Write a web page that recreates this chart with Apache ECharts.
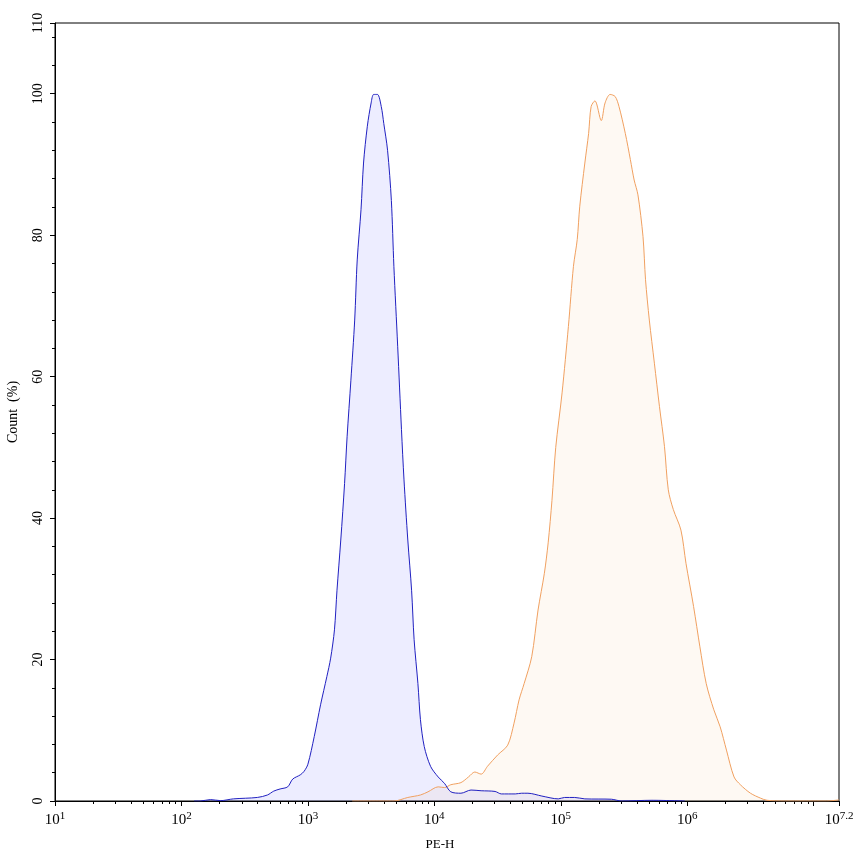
<!DOCTYPE html>
<html>
<head>
<meta charset="utf-8">
<title>PE-H histogram</title>
<script src="https://cdn.jsdelivr.net/npm/echarts@6/dist/echarts.min.js"></script>
<style>
  html, body { margin: 0; padding: 0; background: #fff; }
  #chart { width: 853px; height: 856px; }
</style>
</head>
<body>
<div id="chart"></div>
<script>
// x values are log10(PE-H), y values are Count (%)
var blueX = [2.10, 2.15, 2.23, 2.31, 2.41, 2.60, 2.68, 2.73, 2.78, 2.84, 2.88, 2.94, 2.97, 3.00,
    3.05, 3.10, 3.15, 3.18, 3.21, 3.23, 3.26, 3.29, 3.31, 3.34, 3.37, 3.39, 3.42, 3.44, 3.47,
    3.50, 3.52, 3.55, 3.58, 3.60, 3.63, 3.66, 3.68, 3.71, 3.74, 3.76, 3.79, 3.82, 3.84, 3.87,
    3.89, 3.92, 3.97, 4.03, 4.08, 4.13, 4.21, 4.29, 4.37, 4.48, 4.53, 4.64, 4.69, 4.74, 4.85,
    4.98, 5.03, 5.11, 5.19, 5.40, 5.48, 5.72, 5.98];
var blueY = [0, 0, 0.2, 0.05, 0.3, 0.5, 0.85, 1.4, 1.7, 2.0, 3.1, 3.7, 4.2, 5.2,
    9.1, 13.6, 17.6, 20.2, 24.2, 29.8, 36.9, 44.9, 51.5, 59.5, 68.0, 76.5, 83.6, 90.2, 95.4,
    98.7, 99.9, 99.9, 98.2, 95.8, 92.0, 84.9, 75.6, 64.3, 52.5, 45.4, 36.9, 29.8, 22.8, 16.6,
    11.5, 7.7, 4.9, 3.4, 2.5, 1.3, 1.1, 1.55, 1.45, 1.35, 1.0, 1.0, 1.1, 1.1, 0.7,
    0.3, 0.5, 0.5, 0.3, 0.25, 0, 0.1, 0];

var orangeX = [3.35, 3.68, 3.79, 3.89, 3.95, 4.03, 4.08, 4.13, 4.21, 4.27, 4.32, 4.37, 4.42,
    4.50, 4.58, 4.63, 4.67, 4.71, 4.77, 4.82, 4.87, 4.90, 4.93, 4.96, 5.01, 5.06, 5.10,
    5.13, 5.15, 5.19, 5.22, 5.24, 5.27, 5.32, 5.35, 5.39, 5.43, 5.46, 5.51, 5.55, 5.58, 5.61,
    5.65, 5.67, 5.70, 5.74, 5.78, 5.82, 5.85, 5.89, 5.95, 5.99, 6.05, 6.10, 6.15, 6.21,
    6.26, 6.31, 6.37, 6.42, 6.50, 6.58, 6.63, 6.77, 7.10, 7.20];
var orangeY = [0, 0, 0.5, 0.85, 1.3, 2.0, 1.9, 2.3, 2.6, 3.4, 4.1, 3.8, 4.9,
    6.5, 7.9, 11.0, 14.3, 16.6, 20.4, 27.0, 32.2, 36.5, 42.5, 50.0, 57.7, 67.1, 75.6,
    79.4, 84.1, 90.2, 94.4, 98.2, 99.0, 96.2, 98.7, 99.9, 99.6, 98.2, 94.4, 90.7, 87.8, 85.7,
    79.8, 73.7, 68.0, 61.9, 55.8, 50.1, 44.0, 41.2, 38.3, 33.6, 27.5, 21.8, 16.6, 12.9,
    10.5, 7.2, 3.4, 2.3, 1.1, 0.4, 0.1, 0, 0, 0.15];

var xLabelValues = [1, 2, 3, 4, 5, 6, 7.2];
var xMajorTicks = [1, 2, 3, 4, 5, 6, 7, 7.2];
var decades = [1, 2, 3, 4, 5, 6];
var multipliers = [2, 3, 4, 5, 6, 7, 8, 9];
var yLabelValues = [0, 20, 40, 60, 80, 100, 110];
var yMinorTicks = [4, 8, 12, 16, 24, 28, 32, 36, 44, 48, 52, 56, 64, 68, 72, 76, 84, 88, 92, 96, 104, 108];

function pairs(xs, ys) {
    var out = [];
    for (var i = 0; i < xs.length; i++) out.push([xs[i], ys[i]]);
    return out;
}

// minor ticks at 2..9 x 10^n
var xMinorTicks = [];
decades.forEach(function (d) {
    multipliers.forEach(function (m) {
        xMinorTicks.push(d + Math.log10(m));
    });
});

var font = 'Liberation Serif';
var chart = echarts.init(document.getElementById('chart'));

var option = {
    animation: false,
    backgroundColor: '#fff',
    grid: {
        left: 55, right: 14, top: 23, bottom: 55,
        outerBoundsMode: 'none',
        containLabel: false,
        show: true, borderColor: '#000', borderWidth: 1
    },
    xAxis: [{
        type: 'value', min: 1, max: 7.2,
        name: 'PE-H', nameLocation: 'middle', nameGap: 37,
        nameTextStyle: { fontFamily: font, fontSize: 13, color: '#000', align: 'center', padding: [0, 14, 0, 0] },
        axisLine: { lineStyle: { color: '#000', width: 1 } },
        axisTick: { length: 5, customValues: xMajorTicks, lineStyle: { color: '#000' } },
        splitLine: { show: false },
        axisLabel: {
            customValues: xLabelValues,
            margin: 10,
            fontFamily: font, fontSize: 15, color: '#000',
            formatter: function (v) {
                return '{b|10}{s|' + (Math.round(v * 10) / 10) + '}';
            },
            rich: {
                b: { fontFamily: font, fontSize: 15, color: '#000' },
                s: { fontFamily: font, fontSize: 11, color: '#000', verticalAlign: 'top', padding: [0, 0, 7, 0] }
            }
        }
    }, {
        type: 'value', min: 1, max: 7.2, position: 'bottom',
        axisLine: { show: false },
        axisTick: { length: 3, customValues: xMinorTicks, lineStyle: { color: '#000' } },
        axisLabel: { show: false },
        splitLine: { show: false }
    }],
    yAxis: [{
        type: 'value', min: 0, max: 110,
        name: 'Count  (%)', nameLocation: 'middle', nameGap: 35, nameRotate: 90,
        nameTextStyle: { fontFamily: font, fontSize: 14, color: '#000' },
        axisLine: { show: true, lineStyle: { color: '#000', width: 1 } },
        axisTick: { show: true, length: 5, customValues: yLabelValues, lineStyle: { color: '#000' } },
        splitLine: { show: false },
        axisLabel: {
            customValues: yLabelValues,
            rotate: 90, margin: 10,
            fontFamily: font, fontSize: 14, color: '#000'
        }
    }, {
        type: 'value', min: 0, max: 110, position: 'left',
        axisLine: { show: false },
        axisTick: { show: true, length: 3, customValues: yMinorTicks, lineStyle: { color: '#000' } },
        axisLabel: { show: false },
        splitLine: { show: false }
    }],
    series: [{
        name: 'orange',
        type: 'line',
        xAxisIndex: 0, yAxisIndex: 0,
        data: pairs(orangeX, orangeY),
        smooth: 0.3,
        symbol: 'none',
        lineStyle: { color: '#f0a060', width: 1 },
        areaStyle: { color: 'rgba(240,140,40,0.08)' }
    }, {
        name: 'blue',
        type: 'line',
        xAxisIndex: 0, yAxisIndex: 0,
        data: pairs(blueX, blueY),
        smooth: 0.3,
        symbol: 'none',
        lineStyle: { color: '#2020c0', width: 1 },
        areaStyle: { color: 'rgba(0,0,255,0.1)' }
    }]
};

chart.setOption(option);
</script>
</body>
</html>
